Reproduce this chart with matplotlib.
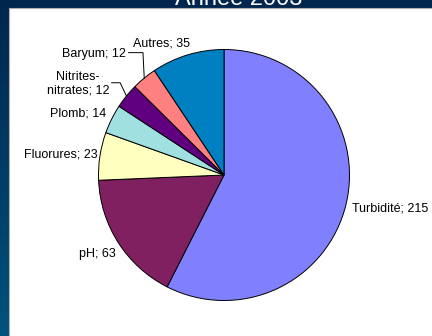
import numpy as np
import matplotlib
matplotlib.use("Agg")
import matplotlib.pyplot as plt
from matplotlib.patches import Rectangle

plt.rcParams['font.family'] = ['Liberation Sans', 'DejaVu Sans']

# Data (année 2003)
labels = ['Turbidité', 'pH', 'Fluorures', 'Plomb', 'Nitrites-\nnitrates', 'Baryum', 'Autres']
values = [215, 63, 23, 14, 12, 12, 35]
colors = ['#8080ff', '#802060', '#ffffc0', '#a0e0e0', '#600080', '#ff8080', '#0080c0']

# Label placement (pie radius units) and alignment
label_pos = [(1.02, -0.27), (-0.86, -0.63), (-1.01, 0.16), (-0.94, 0.49),
             (-0.915, 0.725), (-0.78, 0.965), (-0.50, 1.05)]
label_ha = ['left', 'right', 'right', 'right', 'right', 'right', 'center']
leaders = [False, False, False, False, True, True, False]

W, H = 432, 336
fig = plt.figure(figsize=(W / 100, H / 100), dpi=100)

# gradient background
bg = fig.add_axes([0, 0, 1, 1])
bg.set_axis_off()
grad = np.linspace(0, 1, 256).reshape(-1, 1)
top = np.array([0, 38, 77]) / 255
bot = np.array([0, 82, 124]) / 255
img = top + (bot - top) * grad[:, :, None]
bg.imshow(img, aspect='auto', extent=[0, 1, 0, 1], origin='upper')
bg.set_xlim(0, 1)
bg.set_ylim(0, 1)

# white panel
bg.add_patch(Rectangle((9 / W, -0.01), 1.0, (H - 8) / H + 0.01,
                       facecolor='white', edgecolor='#b0b0b0', lw=0.8))
# title sits mostly above the picture, as in the original
bg.text(239 / W, 1 - 5 / H, 'Année 2003', color='white', fontsize=17,
        ha='center', va='baseline')

# pie
cx, cy, r = 224, 175, 125.5
ax = fig.add_axes([0, 0, 1, 1])
ax.set_axis_off()
wedges, _ = ax.pie(values, colors=colors, startangle=90, counterclock=False,
                   wedgeprops=dict(edgecolor='black', linewidth=0.7))
ax.set_aspect('auto')
ax.set_xlim(-cx / r, (W - cx) / r)
ax.set_ylim(-(H - cy) / r, cy / r)

for w, lab, v, (tx, ty), ha, lead in zip(wedges, labels, values, label_pos, label_ha, leaders):
    ax.text(tx, ty, f'{lab}; {v}', fontsize=9, ha=ha, va='center',
            multialignment='center', color='black')
    if lead:
        ang = np.deg2rad((w.theta1 + w.theta2) / 2)
        ex, ey = np.cos(ang), np.sin(ang)
        ax.plot([tx + 0.02, ex - 0.05 if ey < 0.7 else ex - 0.01, ex],
                [ty + 0.01, ty + 0.01, ey], color='black', lw=0.7)

fig.savefig('out.png', dpi=100)
